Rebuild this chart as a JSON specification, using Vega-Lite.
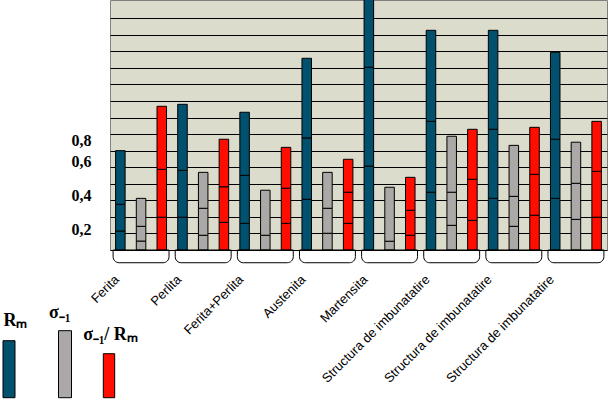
{
  "$schema": "https://vega.github.io/schema/vega-lite/v6.json",
  "width": 497,
  "height": 250,
  "autosize": {"type": "none"},
  "padding": {"left": 110, "top": 0, "right": 3, "bottom": 149},
  "background": "white",
  "config": {
    "view": {"fill": "#DCDCCC", "stroke": "#808080", "strokeWidth": 1},
    "axis": {"labelColor": "black"}
  },
  "resolve": {"axis": {"y": "independent"}},
  "layer": [
    {
      "data": {
        "values": [
          {"nr": 1, "m": "Rₘ", "lo": 0, "hi": 1.15}, {"nr": 1, "m": "Rₘ", "lo": 1.15, "hi": 2.76}, {"nr": 1, "m": "Rₘ", "lo": 2.76, "hi": 6.0},
          {"nr": 1, "m": "σ₋₁", "lo": 0, "hi": 0.54}, {"nr": 1, "m": "σ₋₁", "lo": 0.54, "hi": 1.43}, {"nr": 1, "m": "σ₋₁", "lo": 1.43, "hi": 3.12},
          {"nr": 1, "m": "σ₋₁/ Rₘ", "lo": 0, "hi": 1.98}, {"nr": 1, "m": "σ₋₁/ Rₘ", "lo": 1.98, "hi": 4.87}, {"nr": 1, "m": "σ₋₁/ Rₘ", "lo": 4.87, "hi": 8.68},
          {"nr": 2, "m": "Rₘ", "lo": 0, "hi": 1.98}, {"nr": 2, "m": "Rₘ", "lo": 1.98, "hi": 4.81}, {"nr": 2, "m": "Rₘ", "lo": 4.81, "hi": 8.8},
          {"nr": 2, "m": "σ₋₁", "lo": 0, "hi": 0.89}, {"nr": 2, "m": "σ₋₁", "lo": 0.89, "hi": 2.52}, {"nr": 2, "m": "σ₋₁", "lo": 2.52, "hi": 4.69},
          {"nr": 2, "m": "σ₋₁/ Rₘ", "lo": 0, "hi": 1.67}, {"nr": 2, "m": "σ₋₁/ Rₘ", "lo": 1.67, "hi": 3.82}, {"nr": 2, "m": "σ₋₁/ Rₘ", "lo": 3.82, "hi": 6.69},
          {"nr": 3, "m": "Rₘ", "lo": 0, "hi": 1.61}, {"nr": 3, "m": "Rₘ", "lo": 1.61, "hi": 4.51}, {"nr": 3, "m": "Rₘ", "lo": 4.51, "hi": 8.32},
          {"nr": 3, "m": "σ₋₁", "lo": 0, "hi": 0.89}, {"nr": 3, "m": "σ₋₁", "lo": 0.89, "hi": 3.61},
          {"nr": 3, "m": "σ₋₁/ Rₘ", "lo": 0, "hi": 1.61}, {"nr": 3, "m": "σ₋₁/ Rₘ", "lo": 1.61, "hi": 3.73}, {"nr": 3, "m": "σ₋₁/ Rₘ", "lo": 3.73, "hi": 6.2},
          {"nr": 4, "m": "Rₘ", "lo": 0, "hi": 3.06}, {"nr": 4, "m": "Rₘ", "lo": 3.06, "hi": 6.77}, {"nr": 4, "m": "Rₘ", "lo": 6.77, "hi": 11.58},
          {"nr": 4, "m": "σ₋₁", "lo": 0, "hi": 1.01}, {"nr": 4, "m": "σ₋₁", "lo": 1.01, "hi": 2.52}, {"nr": 4, "m": "σ₋₁", "lo": 2.52, "hi": 4.69},
          {"nr": 4, "m": "σ₋₁/ Rₘ", "lo": 0, "hi": 1.61}, {"nr": 4, "m": "σ₋₁/ Rₘ", "lo": 1.61, "hi": 3.49}, {"nr": 4, "m": "σ₋₁/ Rₘ", "lo": 3.49, "hi": 5.48},
          {"nr": 5, "m": "Rₘ", "lo": 0, "hi": 5.07}, {"nr": 5, "m": "Rₘ", "lo": 5.07, "hi": 11.04}, {"nr": 5, "m": "Rₘ", "lo": 11.04, "hi": 15.5},
          {"nr": 5, "m": "σ₋₁", "lo": 0, "hi": 0.53}, {"nr": 5, "m": "σ₋₁", "lo": 0.53, "hi": 3.79},
          {"nr": 5, "m": "σ₋₁/ Rₘ", "lo": 0, "hi": 0.89}, {"nr": 5, "m": "σ₋₁/ Rₘ", "lo": 0.89, "hi": 2.4}, {"nr": 5, "m": "σ₋₁/ Rₘ", "lo": 2.4, "hi": 4.39},
          {"nr": 6, "m": "Rₘ", "lo": 0, "hi": 3.49}, {"nr": 6, "m": "Rₘ", "lo": 3.49, "hi": 7.77}, {"nr": 6, "m": "Rₘ", "lo": 7.77, "hi": 13.27},
          {"nr": 6, "m": "σ₋₁", "lo": 0, "hi": 1.49}, {"nr": 6, "m": "σ₋₁", "lo": 1.49, "hi": 3.49}, {"nr": 6, "m": "σ₋₁", "lo": 3.49, "hi": 6.87},
          {"nr": 6, "m": "σ₋₁/ Rₘ", "lo": 0, "hi": 1.79}, {"nr": 6, "m": "σ₋₁/ Rₘ", "lo": 1.79, "hi": 4.27}, {"nr": 6, "m": "σ₋₁/ Rₘ", "lo": 4.27, "hi": 7.29},
          {"nr": 7, "m": "Rₘ", "lo": 0, "hi": 3.12}, {"nr": 7, "m": "Rₘ", "lo": 3.12, "hi": 7.29}, {"nr": 7, "m": "Rₘ", "lo": 7.29, "hi": 13.27},
          {"nr": 7, "m": "σ₋₁", "lo": 0, "hi": 1.43}, {"nr": 7, "m": "σ₋₁", "lo": 1.43, "hi": 3.24}, {"nr": 7, "m": "σ₋₁", "lo": 3.24, "hi": 6.32},
          {"nr": 7, "m": "σ₋₁/ Rₘ", "lo": 0, "hi": 2.1}, {"nr": 7, "m": "σ₋₁/ Rₘ", "lo": 2.1, "hi": 4.57}, {"nr": 7, "m": "σ₋₁/ Rₘ", "lo": 4.57, "hi": 7.41},
          {"nr": 8, "m": "Rₘ", "lo": 0, "hi": 3.12}, {"nr": 8, "m": "Rₘ", "lo": 3.12, "hi": 6.69}, {"nr": 8, "m": "Rₘ", "lo": 6.69, "hi": 11.94},
          {"nr": 8, "m": "σ₋₁", "lo": 0, "hi": 1.85}, {"nr": 8, "m": "σ₋₁", "lo": 1.85, "hi": 4.03}, {"nr": 8, "m": "σ₋₁", "lo": 4.03, "hi": 6.51},
          {"nr": 8, "m": "σ₋₁/ Rₘ", "lo": 0, "hi": 1.98}, {"nr": 8, "m": "σ₋₁/ Rₘ", "lo": 1.98, "hi": 4.75}, {"nr": 8, "m": "σ₋₁/ Rₘ", "lo": 4.75, "hi": 7.77}
        ]
      },
      "mark": {"type": "bar", "stroke": "black", "strokeWidth": 1, "clip": true},
      "encoding": {
        "x": {
          "field": "nr", "type": "nominal",
          "scale": {"paddingInner": 0, "paddingOuter": 0},
          "axis": {
            "title": null, "ticks": false, "tickSize": 0, "domain": true, "domainColor": "black", "domainWidth": 1,
            "labelAngle": -45, "labelAlign": "right", "labelBaseline": "middle",
            "labelPadding": 27, "labelOffset": -24, "labelFont": "Liberation Sans", "labelFontSize": 13,
            "labelOverlap": false, "labelBound": false, "labelFlush": false, "labelLimit": 0,
            "labelExpr": "['Ferita','Perlita','Ferita+Perlita','Austenita','Martensita','Structura de imbunatatire','Structura de imbunatatire','Structura de imbunatatire'][datum.value-1]"
          }
        },
        "xOffset": {
          "field": "m", "type": "nominal",
          "sort": ["Rₘ", "σ₋₁", "σ₋₁/ Rₘ"],
          "scale": {"paddingInner": 0.54, "paddingOuter": 0.27}
        },
        "y": {
          "field": "hi", "type": "quantitative",
          "scale": {"domain": [0, 15.1], "nice": false, "zero": false},
          "axis": {
            "orient": "left", "title": null, "grid": false, "ticks": false, "domain": false,
            "values": [1.268, 3.274, 5.358, 6.644],
            "labelExpr": "datum.value < 2 ? '0,2' : datum.value < 4 ? '0,4' : datum.value < 6 ? '0,6' : '0,8'",
            "labelFont": "Liberation Serif", "labelFontWeight": "bold", "labelFontSize": 16, "labelPadding": 19
          }
        },
        "y2": {"field": "lo"},
        "color": {
          "field": "m", "type": "nominal",
          "scale": {"domain": ["Rₘ", "σ₋₁", "σ₋₁/ Rₘ"], "range": ["#00506E", "#ABA8A7", "#FF0D00"]},
          "legend": {
            "orient": "none", "legendX": -110, "legendY": 388.7, "direction": "horizontal", "columns": 3,
            "title": null, "padding": 0, "symbolSize": 4, "symbolStrokeColor": "black", "symbolStrokeWidth": 1,
            "labelFont": "Liberation Serif", "labelFontWeight": "bold", "labelFontSize": 18, "labelColor": "black",
            "labelAlign": "center", "labelBaseline": "middle", "labelOffset": 0, "columnPadding": 9,
            "encoding": {
              "symbols": {
                "shape": {"value": {"expr": "datum.value == 'Rₘ' ? 'M-6,-57H6V0H-6ZM28.8,-20' : datum.value == 'σ₋₁' ? 'M-6.5,-67H6.5V0H-6.5Z' : 'M-5.7,-44H5.7V0H-5.7Z'"}}
              },
              "labels": {
                "dx": {"value": {"expr": "datum.value == 'Rₘ' ? -2.5 : datum.value == 'σ₋₁' ? -14.3 : -7.5"}},
                "dy": {"value": {"expr": "datum.value == 'Rₘ' ? -77 : datum.value == 'σ₋₁' ? -85 : -63"}}
              }
            }
          }
        }
      }
    },
    {
      "data": {"values": [{"nr": 1}, {"nr": 2}, {"nr": 3}, {"nr": 4}, {"nr": 5}, {"nr": 6}, {"nr": 7}, {"nr": 8}]},
      "mark": {"type": "bar", "fill": "white", "fillOpacity": 0, "stroke": "black", "strokeWidth": 1,
               "cornerRadiusBottomLeft": 6, "cornerRadiusBottomRight": 6, "width": {"band": 0.9}},
      "encoding": {
        "x": {"field": "nr", "type": "nominal", "scale": {"paddingInner": 0, "paddingOuter": 0}},
        "y": {
          "datum": 0, "type": "quantitative",
          "scale": {"domain": [0, 15.1], "nice": false, "zero": false},
          "axis": {
            "orient": "right", "title": null, "labels": false, "ticks": false, "domain": false,
            "grid": true, "gridColor": "black", "gridWidth": 1, "gridOpacity": 1,
            "values": [1, 2, 3, 4, 5, 6, 7, 8, 9, 10, 11, 12, 13, 14]
          }
        },
        "y2": {"datum": -0.77}
      }
    }
  ]
}
